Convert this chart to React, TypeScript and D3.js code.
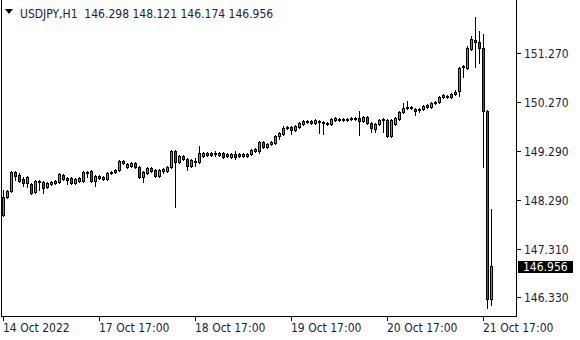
import React from 'react';
import * as d3 from 'd3';

const symbolLabel = 'USDJPY,H1';

const opens = [
  147.990, 148.354, 148.476, 148.861, 148.800, 148.719, 148.638, 148.618, 148.456, 148.658,
  148.658, 148.557, 148.618, 148.638, 148.658, 148.800, 148.739, 148.739, 148.638, 148.678,
  148.678, 148.861, 148.881, 148.678, 148.780, 148.719, 148.719, 148.840, 148.861, 148.901,
  149.083, 148.962, 148.982, 149.043, 148.962, 148.759, 148.840, 148.942, 148.901, 148.780,
  148.881, 148.881, 148.962, 149.286, 149.063, 149.185, 149.124, 148.982, 149.063, 149.063,
  149.185, 149.205, 149.245, 149.225, 149.205, 149.245, 149.185, 149.164, 149.225, 149.185,
  149.185, 149.185, 149.225, 149.286, 149.286, 149.468, 149.367, 149.428, 149.448, 149.589,
  149.630, 149.751, 149.772, 149.711, 149.772, 149.832, 149.873, 149.893, 149.853, 149.893,
  149.873, 149.832, 149.832, 149.913, 149.913, 149.913, 149.913, 149.934, 149.934, 149.954,
  149.893, 149.974, 149.853, 149.731, 149.832, 149.913, 149.913, 149.589, 149.832, 149.934,
  150.075, 150.156, 150.156, 150.136, 150.116, 150.136, 150.177, 150.177, 150.258, 150.278,
  150.379, 150.379, 150.379, 150.440, 150.501, 150.987, 150.966, 151.351, 151.533, 151.493,
  151.371, 150.096, 146.298,
];

const highs = [
  148.496, 148.496, 148.881, 148.881, 148.840, 148.759, 148.780, 148.638, 148.699, 148.699,
  148.678, 148.658, 148.678, 148.699, 148.840, 148.820, 148.759, 148.759, 148.739, 148.759,
  148.881, 148.881, 148.901, 148.800, 148.800, 148.780, 148.861, 148.881, 148.921, 149.104,
  149.104, 149.043, 149.063, 149.063, 148.982, 148.881, 148.962, 148.962, 148.921, 148.921,
  148.942, 148.982, 149.306, 149.306, 149.205, 149.205, 149.144, 149.124, 149.144, 149.387,
  149.266, 149.266, 149.266, 149.286, 149.266, 149.266, 149.245, 149.245, 149.286, 149.245,
  149.245, 149.245, 149.326, 149.347, 149.488, 149.488, 149.448, 149.488, 149.610, 149.670,
  149.792, 149.792, 149.792, 149.812, 149.873, 149.913, 149.913, 149.913, 149.934, 149.913,
  149.893, 149.873, 149.954, 149.974, 149.954, 149.954, 149.954, 149.974, 149.974, 150.096,
  149.994, 149.994, 149.873, 149.853, 149.934, 149.954, 149.934, 149.934, 149.974, 150.096,
  150.258, 150.298, 150.197, 150.156, 150.156, 150.217, 150.237, 150.278, 150.298, 150.399,
  150.440, 150.420, 150.460, 150.521, 150.987, 151.027, 151.412, 151.614, 151.999, 151.715,
  151.655, 150.116, 148.121,
];

const lows = [
  147.970, 148.334, 148.456, 148.699, 148.658, 148.577, 148.557, 148.415, 148.435, 148.496,
  148.435, 148.537, 148.597, 148.618, 148.638, 148.699, 148.618, 148.618, 148.618, 148.658,
  148.658, 148.759, 148.658, 148.577, 148.719, 148.699, 148.699, 148.820, 148.840, 148.881,
  149.023, 148.942, 148.962, 148.942, 148.739, 148.658, 148.820, 148.861, 148.759, 148.759,
  148.840, 148.861, 148.942, 148.152, 149.043, 149.104, 148.901, 148.962, 148.982, 149.043,
  149.164, 149.185, 149.185, 149.185, 149.185, 149.144, 149.164, 149.144, 149.124, 149.164,
  149.164, 149.164, 149.205, 149.266, 149.245, 149.347, 149.347, 149.407, 149.428, 149.529,
  149.610, 149.731, 149.630, 149.691, 149.751, 149.812, 149.853, 149.832, 149.832, 149.650,
  149.630, 149.812, 149.812, 149.893, 149.893, 149.893, 149.893, 149.913, 149.913, 149.610,
  149.873, 149.832, 149.670, 149.670, 149.812, 149.670, 149.569, 149.569, 149.812, 149.913,
  150.055, 150.136, 150.136, 150.015, 150.075, 150.116, 150.156, 150.156, 150.237, 150.258,
  150.359, 150.359, 150.359, 150.420, 150.399, 150.784, 150.946, 151.331, 150.987, 151.068,
  148.962, 146.107, 146.174,
];

const closes = [
  148.354, 148.476, 148.861, 148.780, 148.678, 148.638, 148.759, 148.435, 148.678, 148.678,
  148.537, 148.638, 148.658, 148.678, 148.820, 148.719, 148.699, 148.638, 148.719, 148.739,
  148.861, 148.840, 148.678, 148.780, 148.739, 148.759, 148.840, 148.861, 148.901, 149.083,
  149.043, 149.023, 149.043, 148.962, 148.759, 148.861, 148.942, 148.881, 148.780, 148.901,
  148.921, 148.962, 149.286, 149.063, 149.185, 149.124, 148.982, 149.104, 149.083, 149.245,
  149.245, 149.245, 149.205, 149.245, 149.245, 149.164, 149.225, 149.225, 149.164, 149.225,
  149.225, 149.225, 149.306, 149.326, 149.468, 149.367, 149.428, 149.468, 149.589, 149.650,
  149.751, 149.772, 149.711, 149.792, 149.853, 149.893, 149.893, 149.853, 149.913, 149.873,
  149.853, 149.853, 149.934, 149.954, 149.934, 149.934, 149.934, 149.954, 149.954, 149.893,
  149.974, 149.853, 149.751, 149.832, 149.913, 149.934, 149.589, 149.913, 149.954, 150.075,
  150.156, 150.177, 150.177, 150.096, 150.136, 150.197, 150.217, 150.258, 150.278, 150.379,
  150.420, 150.399, 150.440, 150.480, 150.966, 151.007, 151.371, 151.554, 151.493, 151.371,
  150.096, 146.289, 146.956,
];

const xTickBars = [0, 24, 48, 72, 96, 120];
const xTickLabels = ['14 Oct 2022', '17 Oct 17:00', '18 Oct 17:00', '19 Oct 17:00', '20 Oct 17:00', '21 Oct 17:00'];
const yTickValues = [151.27, 150.27, 149.29, 148.29, 147.31, 146.33];
const yTickLabels = ['151.270', '150.270', '149.290', '148.290', '147.310', '146.330'];
const lastPrice = 146.956;
const lastPriceLabel = '146.956';

const FONT = '"DejaVu Sans Condensed", "Liberation Sans", sans-serif';
const TEXT = '#1c1c3c';
const UP = '#33bb33';
const DOWN = '#e01818';

export default function App() {
  const W = 580;
  const H = 340;
  const frameLeft = 1;
  const frameRight = 516;
  const frameBottom = 316;

  const x = d3.scaleLinear().domain([0, opens.length - 1]).range([3, 491]);
  const y = d3.scaleLinear().domain([146.33, 151.27]).range([297, 53]);

  const header = `${symbolLabel}  ${opens[opens.length - 1].toFixed(3)} ${highs[highs.length - 1].toFixed(3)} ${lows[lows.length - 1].toFixed(3)} ${closes[closes.length - 1].toFixed(3)}`;

  const candles = opens.map((o, i) => {
    const c = closes[i];
    const cx = Math.round(x(i));
    const hiY = Math.round(y(highs[i]));
    const loY = Math.round(y(lows[i]));
    const top = Math.round(y(Math.max(o, c)));
    const bot = Math.round(y(Math.min(o, c)));
    const up = c >= o;
    return (
      <g key={i}>
        <rect x={cx} y={hiY} width={1} height={loY - hiY + 1} fill="#000" />
        <rect x={cx - 1} y={top} width={3} height={bot - top + 1} fill="#000" />
        {bot - top > 1 && (
          <rect x={cx} y={top + 1} width={1} height={bot - top - 1} fill={up ? UP : DOWN} />
        )}
      </g>
    );
  });

  const lastY = Math.round(y(lastPrice));

  return (
    <svg
      width={W}
      height={H}
      style={{ position: 'absolute', left: 0, top: 0, background: '#fff' }}
      shapeRendering="crispEdges"
    >
      <rect x={0} y={0} width={W} height={H} fill="#fff" />
      {/* frame */}
      <rect x={frameLeft} y={0} width={1} height={frameBottom + 1} fill="#000" />
      <rect x={frameRight} y={0} width={1} height={frameBottom + 1} fill="#000" />
      <rect x={frameLeft} y={frameBottom} width={frameRight - frameLeft + 1} height={1} fill="#000" />

      {candles}

      {/* header */}
      <path d="M5,9 L13,9 L9,14 Z" fill="#000" shapeRendering="auto" />
      <text x={20} y={18} fontFamily={FONT} fontSize={12} fill={TEXT} style={{ whiteSpace: 'pre' }}>
        {header}
      </text>

      {/* price axis */}
      {yTickValues.map((v, i) => {
        const ty = Math.round(y(v));
        return (
          <g key={i}>
            <rect x={frameRight + 1} y={ty} width={4} height={1} fill="#000" />
            <text x={524} y={ty + 4.5} fontFamily={FONT} fontSize={12} fill={TEXT}>
              {yTickLabels[i]}
            </text>
          </g>
        );
      })}
      <rect x={518} y={lastY - 5} width={55} height={12} fill="#000" />
      <text x={523} y={lastY + 5} fontFamily={FONT} fontSize={12} fill="#fff">
        {lastPriceLabel}
      </text>

      {/* time axis */}
      {xTickBars.map((b, i) => {
        const tx = Math.round(x(b));
        return (
          <g key={i}>
            <rect x={tx} y={frameBottom + 1} width={1} height={4} fill="#000" />
            <text x={tx} y={332} fontFamily={FONT} fontSize={12} fill={TEXT}>
              {xTickLabels[i]}
            </text>
          </g>
        );
      })}
    </svg>
  );
}
